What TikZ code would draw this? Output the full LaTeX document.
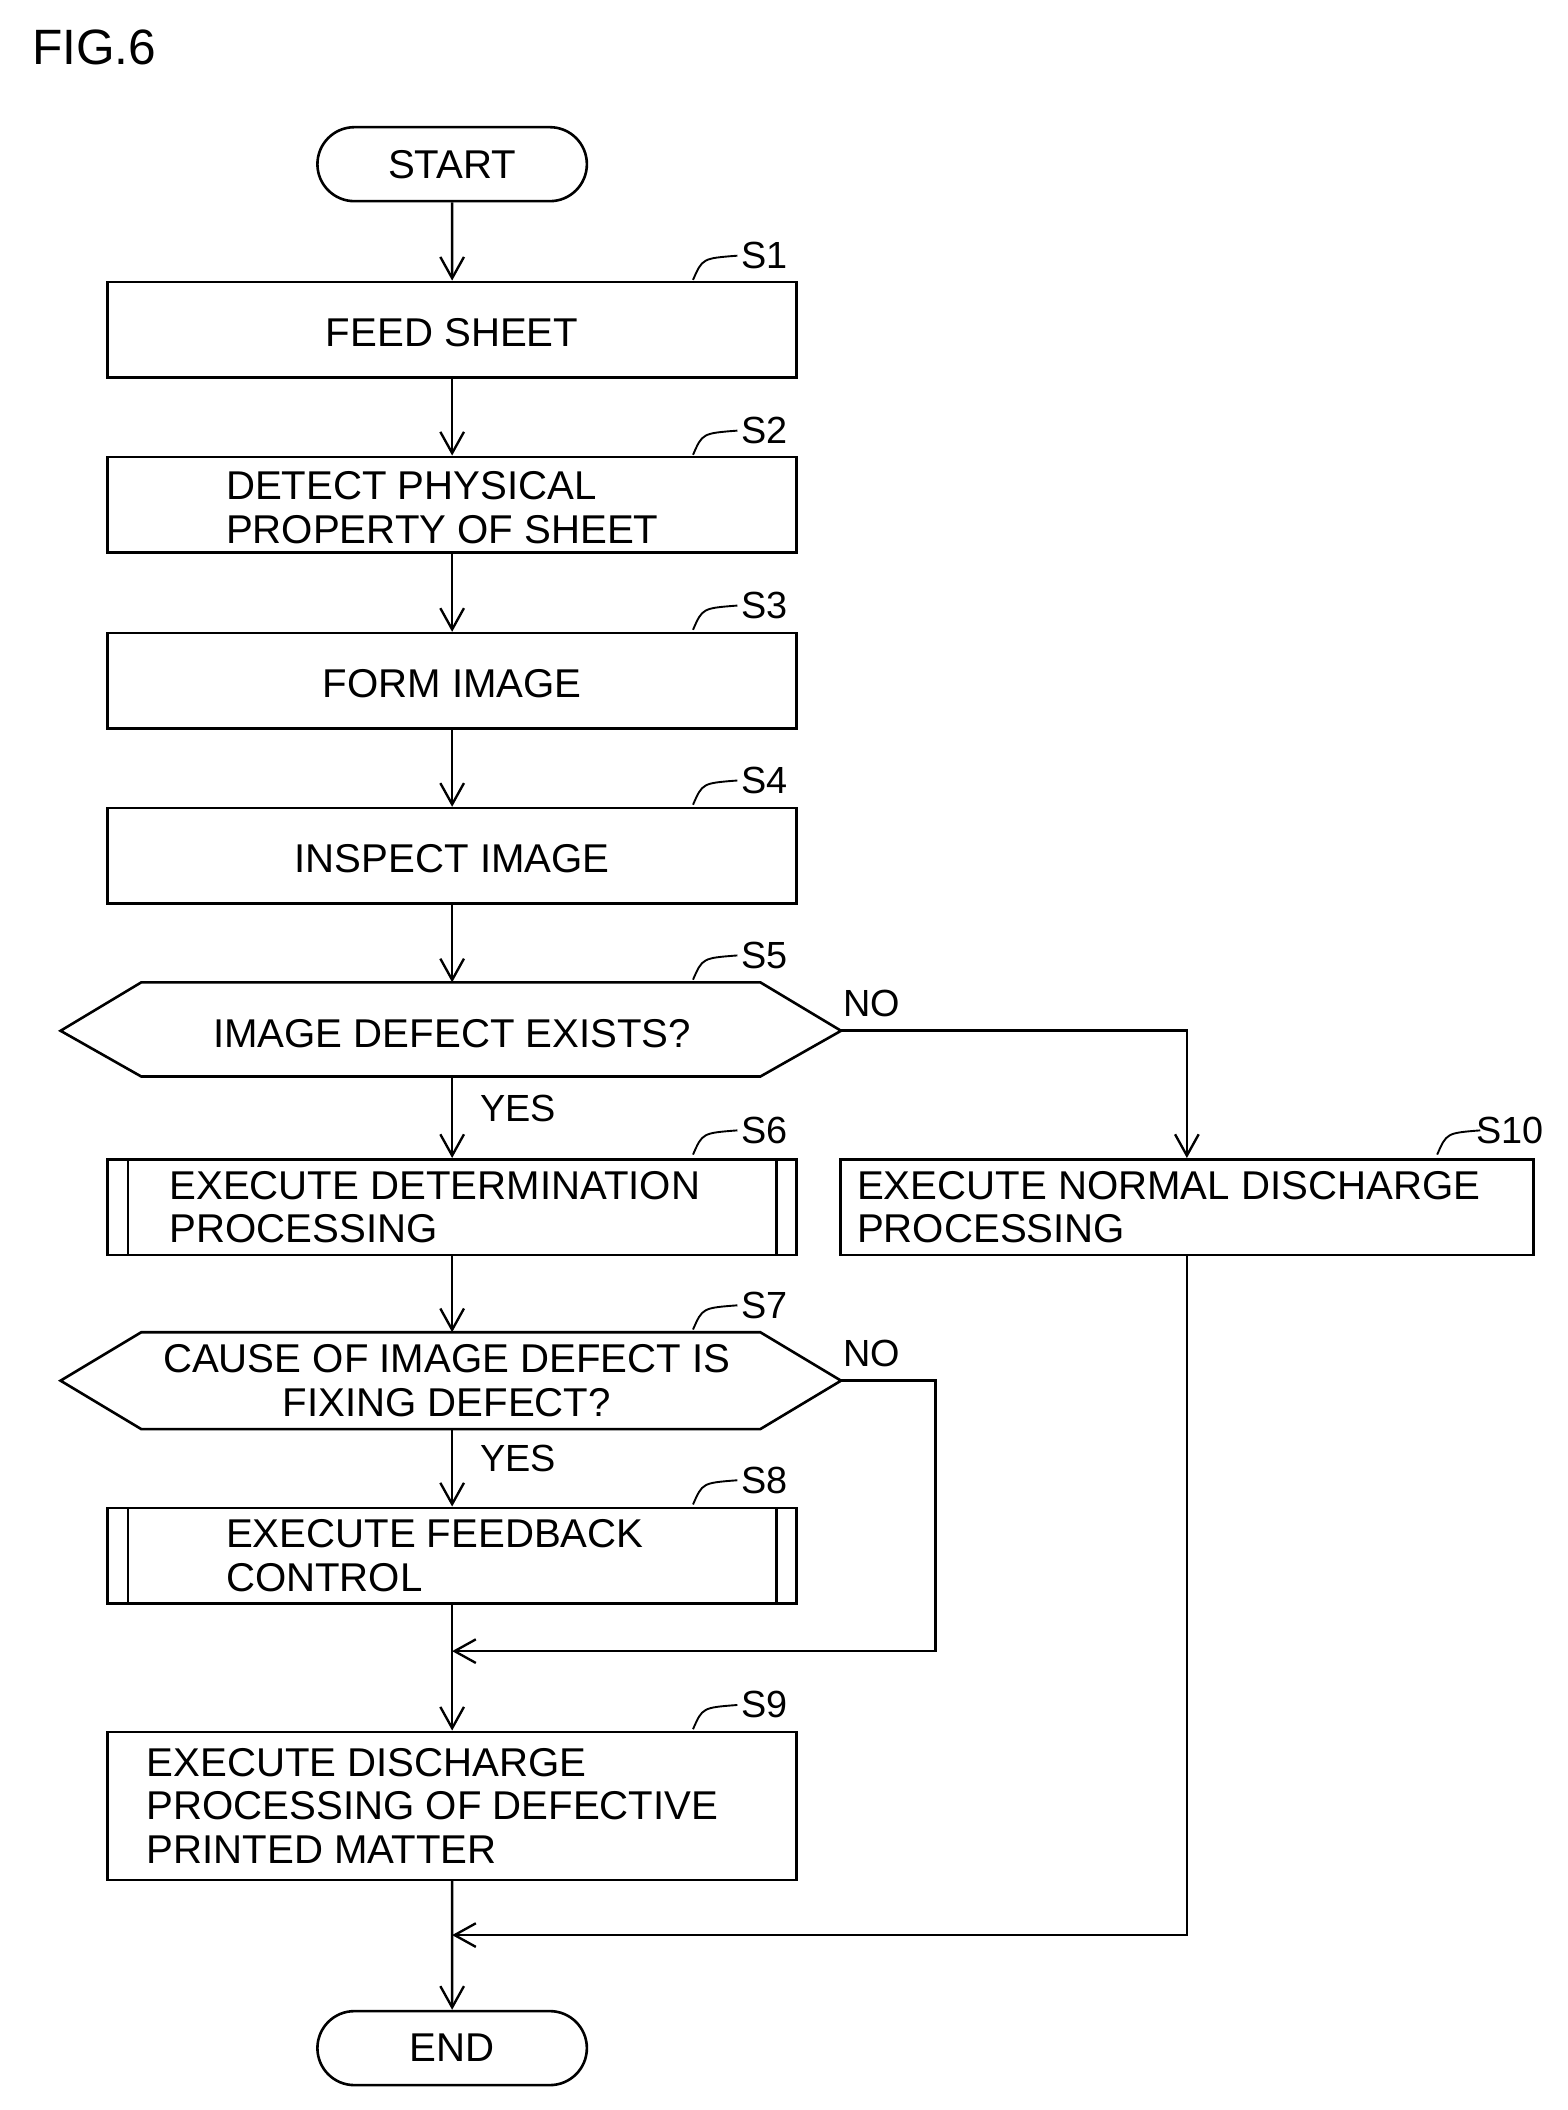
\documentclass[tikz,border=0pt]{standalone}
\usepackage{fontspec}
\setmainfont{Liberation Sans}
\usetikzlibrary{arrows.meta,shapes.misc}
\begin{document}
\begin{tikzpicture}[x=0.02cm,y=-0.02cm,line width=1.1pt,
  txt/.style={font=\fontsize{17}{18.5}\selectfont,inner sep=0pt,align=left},
  box/.style={draw,minimum width=10.24cm,minimum height=1.42cm,inner sep=0pt},
  lbl/.style={font=\fontsize{16}{18}\selectfont,inner sep=0pt},
  arr/.style={-{Straight Barb[length=9pt,width=10pt,line width=1pt]}},
  term/.style={draw,rounded rectangle,minimum width=4.24cm,minimum height=1.1cm,font=\fontsize{17}{18}\selectfont}]
\useasboundingbox (0,0) rectangle (1165,1568);
\node[txt,font=\fontsize{21}{22}\selectfont] (fig) at (70,35) {FIG.6};
\node[term] (start) at (336,122) {START};
\node[term] (end) at (336,1522) {END};
% boxes
\node[box] (s1) at (336,245) {}; \node[txt] (t1) at (336,247) {FEED SHEET};
\node[box] (s2) at (336,375) {}; \node[txt,anchor=west] (t2) at (167,377) {DETECT PHYSICAL\\PROPERTY OF SHEET};
\node[box] (s3) at (336,506) {}; \node[txt] (t3) at (336,508) {FORM IMAGE};
\node[box] (s4) at (336,636) {}; \node[txt] (t4) at (336,638) {INSPECT IMAGE};
\node[box] (s6) at (336,897) {}; \node[txt,anchor=west] (t6) at (125,897) {EXECUTE DETERMINATION\\PROCESSING};
\draw (95,862)--(95,932) (577,862)--(577,932);
\node[box,minimum width=10.3cm] (s10) at (882,897) {}; \node[txt,anchor=west] (t10) at (636,897) {EXECUTE NORMAL DISCHARGE\\PROCESSING};
\node[box] (s8) at (336,1156) {}; \node[txt,anchor=west] (t8) at (167,1156) {EXECUTE FEEDBACK\\CONTROL};
\draw (95,1121)--(95,1192) (577,1121)--(577,1192);
\node[box,minimum height=2.2cm] (s9) at (336,1342) {}; \node[txt,anchor=west] (t9) at (108,1342) {EXECUTE DISCHARGE\\PROCESSING OF DEFECTIVE\\PRINTED MATTER};
% hexagons
\draw (45,766)--(105,730)--(565,730)--(625,766)--(565,800)--(105,800)--cycle;
\coordinate (s5t) at (336,730); \coordinate (s5b) at (336,800); \coordinate (s5r) at (625,766);
\node[txt] (t5) at (336,768) {IMAGE DEFECT EXISTS?};
\draw (45,1026)--(105,990)--(565,990)--(625,1026)--(565,1062)--(105,1062)--cycle;
\coordinate (s7t) at (336,990); \coordinate (s7b) at (336,1062); \coordinate (s7r) at (625,1026);
\node[txt,align=center] (t7) at (332,1026) {CAUSE OF IMAGE DEFECT IS\\FIXING DEFECT?};
% step labels
\foreach \n/\y/\x in {1/190/568,2/320/568,3/450/568,4/580/568,5/710/568,6/840/568,7/970/568,8/1100/568,9/1267/568}{
  \node[lbl] (L\n) at (\x,\y) {S\n};
  \draw[line width=0.8pt] (515,\y+18) .. controls (522,\y+2) .. (548,\y);
}
\node[lbl] (L10) at (1122,840) {S10};
\draw[line width=0.8pt] (1068,858) .. controls (1075,842) .. (1100,840);
% connectors
\draw[arr] (start) -- (s1);
\draw[arr] (s1) -- (s2);
\draw[arr] (s2) -- (s3);
\draw[arr] (s3) -- (s4);
\draw[arr] (s4) -- (s5t);
\draw[arr] (s5b) -- (s6);
\draw[arr] (s5r) -| (s10.north);
\draw[arr] (s6) -- (s7t);
\draw[arr] (s7b) -- (s8);
\coordinate (m1) at (336,1227);
\coordinate (m2) at (336,1438);
\draw[arr] (s7r) -- (695,1026) -- (695,1227) -- (m1);
\draw[arr] (s8) -- (s9);
\draw[arr] (s10.south) |- (m2);
\draw[arr] (s9) -- (end);
\node[lbl] (y1) at (385,824) {YES};
\node[lbl] (y2) at (385,1084) {YES};
\node[lbl] (n1) at (648,746) {NO};
\node[lbl] (n2) at (648,1006) {NO};
\end{tikzpicture}
\end{document}
